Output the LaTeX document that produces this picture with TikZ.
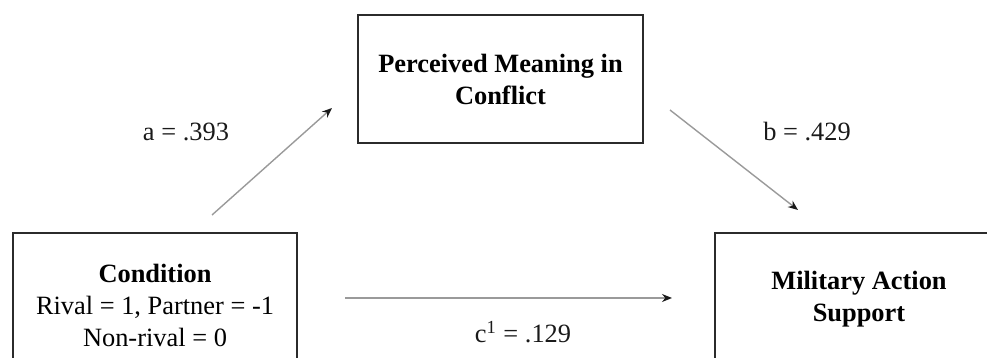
\documentclass[tikz,border=0pt]{standalone}
\usepackage{fontspec}
\setmainfont{Liberation Serif}
\usepackage{tikz}
\usetikzlibrary{arrows.meta}
\definecolor{ink}{HTML}{2B2B2B}
\definecolor{ink2}{HTML}{1A1A1A}
\definecolor{wire}{HTML}{9A9A9A}
\tikzset{
  every picture/.style={font=\fontsize{13.2}{16}\selectfont},
  bx/.style={draw=ink,line width=1pt,fill=white,align=center,inner sep=0pt,font=\fontsize{13.2}{16}\selectfont\bfseries},
  arr/.style={draw=wire,line width=0.7pt,-{Stealth[length=5pt,width=4pt,color=ink2]}},
  lab/.style={text=ink2,inner sep=0pt},
}
\begin{document}
\begin{tikzpicture}[x=0.5pt,y=-0.5pt]
  \clip (0,0) rectangle (987,358);
  % boxes
  \node[bx,minimum width=142pt,minimum height=72pt] (cond) at (155,305)
    {Condition\\\mdseries Rival = 1, Partner = -1\\\mdseries Non-rival = 0};
  \node[bx,minimum width=142.5pt,minimum height=64pt] (perc) at (500.5,79)
    {Perceived Meaning in\\Conflict};
  \node[bx,minimum width=144pt,minimum height=66pt] (mil) at (859,299)
    {Military Action\\Support};
  % free ends of the paths
  \coordinate (a0) at (212,215); \coordinate (a1) at (332,108);
  \coordinate (b0) at (670,110); \coordinate (b1) at (798,210);
  \coordinate (c0) at (345,298); \coordinate (c1) at (672,298);
  \draw[arr] (a0) -- (a1);
  \draw[arr] (b0) -- (b1);
  \draw[arr] (c0) -- (c1);
  \node[lab] (la) at (186,132) {a = .393};
  \node[lab] (lb) at (807,132) {b = .429};
  \node[lab] (lc) at (523,332) {c\textsuperscript{1} = .129};
\end{tikzpicture}
\end{document}
